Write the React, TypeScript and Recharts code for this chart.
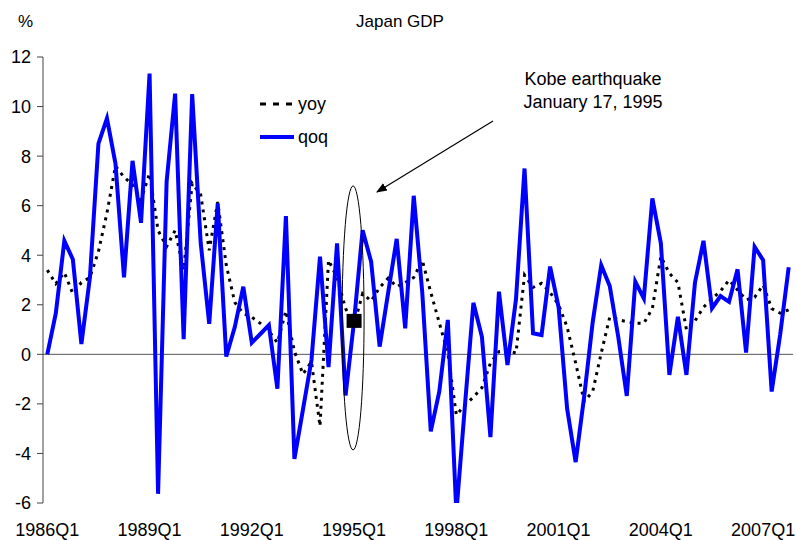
import { Line, LineChart, ReferenceDot, ReferenceLine, XAxis, YAxis } from "recharts";

// quarterly labels 1986Q1 .. 2007Q4
const quarters: string[] = [];
for (let y = 1986; y <= 2007; y++) for (let q = 1; q <= 4; q++) quarters.push(`${y}Q${q}`);

const yoy = [
  3.4, 2.85, 3.3, 2.45, 2.9, 3.1, 4.15, 5.7, 7.6, 7.15, 6.85, 6.25,
  7.3, 5.0, 4.35, 5.0, 3.4, 6.9, 6.45, 4.2, 6.15, 3.6, 2.1, 1.65,
  1.5, 1.25, 0.95, 0.47, 1.75, 0.12, -0.8, -0.3, -2.9, 3.8, 3.1, 1.85,
  1.2, 2.45, 2.15, 2.7, 3.07, 2.73, 2.9, 3.1, 3.8, 2.5, 1.27, 0.05,
  -2.45, -2.05, -1.73, -1.35, -0.35, 0.11, 0.15, 0.05, 3.2, 2.7, 2.87, 2.5,
  2.0, 1.1, -0.35, -1.9, -1.5, 0.05, 1.5, 1.4, 1.32, 1.25, 1.25, 1.85,
  3.95, 3.27, 2.9, 1.0, 1.35, 1.9, 2.25, 2.55, 3.0, 2.6, 2.2, 2.3,
  2.8, 1.85, 1.66, 1.8,
];

const qoq = [
  0, 1.66, 4.58, 3.83, 0.42, 3.1, 8.5, 9.52, 7.7, 3.11, 7.81, 5.31,
  11.33, -5.63, 6.96, 10.52, 0.61, 10.5, 4.5, 1.23, 6.09, -0.09, 1.1, 2.73,
  0.47, 0.82, 1.18, -1.39, 5.58, -4.22, -2.23, -0.23, 3.94, -0.52, 4.48, -1.66,
  1.35, 5.01, 3.74, 0.31, 2.49, 4.66, 1.05, 6.4, 2.5, -3.11, -1.5, 1.39,
  -6.4, -2.1, 2.08, 0.71, -3.34, 2.53, -0.43, 2.23, 7.5, 0.85, 0.78, 3.54,
  1.9, -2.2, -4.35, -1.7, 1.3, 3.6, 2.76, 0.7, -1.68, 2.93, 2.26, 6.29,
  4.48, -0.83, 1.52, -0.83, 2.89, 4.58, 1.86, 2.35, 2.12, 3.43, 0.07, 4.34,
  3.8, -1.5, 0.8, 3.51,
];

const xTicks = ["1986Q1", "1989Q1", "1992Q1", "1995Q1", "1998Q1", "2001Q1", "2004Q1", "2007Q1"];
const yTicks = [-6, -4, -2, 0, 2, 4, 6, 8, 10, 12];

const kobeQuarter = "1995Q1";
const kobeIndex = quarters.indexOf(kobeQuarter);
const ellipseCenter = 1.47;

const data = quarters.map((label, i) => ({ label, yoy: yoy[i], qoq: qoq[i] }));

const font = "'Liberation Sans', Arial, sans-serif";

export default function App() {
  return (
    <div style={{ position: "relative", width: 796, height: 540, fontFamily: font, background: "#fff" }}>
      <style>{"body{margin:0}"}</style>
      <LineChart width={796} height={540} data={data} margin={{ top: 57, right: 3, bottom: 0, left: 0 }}>
        <XAxis
          dataKey="label"
          ticks={xTicks}
          interval={0}
          height={37}
          axisLine={false}
          tickLine={false}
          tickSize={0}
          tickMargin={20}
          padding={{ left: 4.3, right: 4.3 }}
          tick={{ fontSize: 18, fill: "#000", fontFamily: font }}
        />
        <YAxis
          domain={[-6, 12]}
          ticks={yTicks}
          allowDataOverflow
          width={43}
          axisLine={{ stroke: "#444" }}
          tickLine={{ stroke: "#444" }}
          tickSize={6}
          tickMargin={6}
          tick={{ fontSize: 18, fill: "#000", fontFamily: font }}
        />
        <ReferenceLine y={0} stroke="#555" />
        <Line dataKey="yoy" stroke="#000" strokeWidth={3} strokeDasharray="3 5" dot={false} isAnimationActive={false} />
        <Line dataKey="qoq" stroke="#0000ff" strokeWidth={4} dot={false} isAnimationActive={false} />
        <ReferenceDot
          x={kobeQuarter}
          y={qoq[kobeIndex]}
          shape={(p: any) => <rect x={p.cx - 7.5} y={p.cy - 7} width={15} height={14} fill="#000" />}
        />
        <ReferenceDot
          x={kobeQuarter}
          y={ellipseCenter}
          shape={(p: any) => <ellipse cx={p.cx - 1} cy={p.cy} rx={11} ry={132} fill="none" stroke="#000" strokeWidth={1} />}
        />
      </LineChart>

      <svg width={796} height={540} style={{ position: "absolute", left: 0, top: 0, pointerEvents: "none" }}>
        <defs>
          <marker id="arr" viewBox="0 0 10 10" refX="9" refY="5" markerWidth="9" markerHeight="9" orient="auto">
            <path d="M0,1 L10,5 L0,9 z" fill="#000" />
          </marker>
        </defs>
        <text x={400} y={27} textAnchor="middle" fontSize={17} fontFamily={font}>Japan GDP</text>
        <text x={18} y={27} fontSize={17} fontFamily={font}>%</text>
        <text x={593} y={85} textAnchor="middle" fontSize={18} fontFamily={font}>Kobe earthquake</text>
        <text x={593} y={108} textAnchor="middle" fontSize={18} fontFamily={font}>January 17, 1995</text>
        <line x1={493} y1={121} x2={377} y2={192} stroke="#000" strokeWidth={1.2} markerEnd="url(#arr)" />
        <line x1={260} y1={104} x2={293} y2={104} stroke="#000" strokeWidth={3} strokeDasharray="6 7" />
        <text x={298} y={110} fontSize={18} fontFamily={font}>yoy</text>
        <line x1={260} y1={137} x2={294} y2={137} stroke="#0000ff" strokeWidth={4} />
        <text x={298} y={143} fontSize={18} fontFamily={font}>qoq</text>
      </svg>
    </div>
  );
}
